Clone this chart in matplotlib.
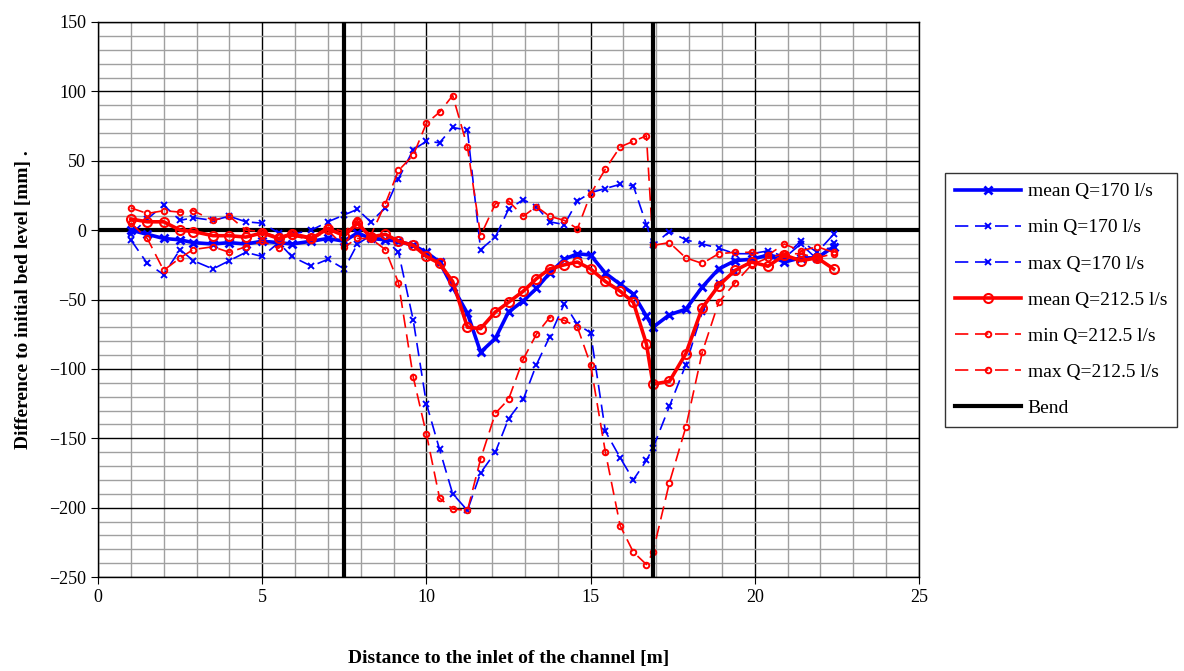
import matplotlib.pyplot as plt
import numpy as np

# distance along the channel [m]
x = [1.0, 1.5, 2.0, 2.5, 2.9, 3.5, 4.0, 4.5, 5.0, 5.5, 5.9, 6.5, 7.0, 7.5,
     7.9, 8.3, 8.75, 9.15, 9.6, 10.0, 10.4, 10.8, 11.25, 11.65, 12.1, 12.5,
     12.95, 13.35, 13.75, 14.2, 14.6, 15.0, 15.45, 15.9, 16.3, 16.7,
     16.9, 17.4, 17.9, 18.4, 18.9, 19.4, 19.9, 20.4, 20.9, 21.4, 21.9, 22.4]

mean170 = [0, -3, -6, -7, -9, -10, -9, -10, -8, -9, -10, -8, -6, -8,
           -2, -6, -7, -8, -11, -16, -23, -41, -60, -88, -78, -59,
           -51, -42, -31, -21, -17, -18, -31, -39, -46, -62,
           -70, -61, -57, -41, -28, -22, -21, -18, -23, -20, -20, -12]
min170 = [-7, -24, -32, -14, -22, -28, -22, -16, -19, -9, -19, -26, -21, -28,
          -10, -4, -7, -16, -65, -125, -158, -190, -202, -175, -160, -136,
          -122, -97, -77, -53, -68, -74, -145, -164, -180, -166,
          -157, -127, -97, -59, -38, -30, -22, -17, -20, -10, -21, -9]
max170 = [-3, 8, 18, 7, 9, 7, 10, 6, 5, -2, -3, 0, 6, 11,
          15, 6, 16, 37, 58, 64, 63, 74, 72, -14, -5, 15,
          22, 17, 6, 4, 21, 27, 30, 33, 32, 4,
          -11, -1, -7, -10, -13, -17, -17, -15, -19, -8, -16, -3]

mean212 = [8, 6, 6, 0, -1, -4, -4, -5, -2, -6, -3, -6, 1, -4,
           5, -5, -3, -8, -11, -19, -24, -37, -70, -71, -59, -52,
           -44, -35, -28, -25, -23, -28, -37, -44, -52, -82,
           -111, -109, -89, -56, -40, -29, -23, -26, -18, -22, -20, -28]
min212 = [5, -6, -29, -20, -14, -12, -16, -12, -8, -13, -4, -7, 0, -12,
          -6, -6, -14, -38, -106, -147, -193, -201, -202, -165, -132, -122,
          -93, -75, -63, -65, -70, -97, -160, -213, -232, -241,
          -232, -182, -142, -88, -52, -38, -25, -20, -17, -17, -20, -17]
max212 = [16, 12, 14, 13, 14, 7, 10, 0, -1, -5, -2, -5, 2, -1,
          7, -4, 19, 43, 54, 77, 85, 97, 60, -4, 19, 21,
          10, 17, 10, 7, 1, 26, 44, 60, 64, 68,
          -11, -9, -20, -24, -17, -16, -16, -18, -10, -15, -12, -16]

bend_x = [7.5, 7.5, np.nan, 16.9, 16.9]
bend_y = [-250, 150, np.nan, -250, 150]

plt.rcParams['font.family'] = ['Liberation Serif', 'DejaVu Serif']

fig = plt.figure(figsize=(11.84, 6.71), dpi=100, facecolor='white')
ax = fig.add_axes([98/1184, 1 - 577/671, (919 - 98)/1184, (577 - 22)/671])

ax.set_xlim(0, 25)
ax.set_ylim(-250, 150)
ax.set_xticks(np.arange(0, 26, 5))
ax.set_yticks(np.arange(-250, 151, 50))
ax.set_xticks(np.arange(0, 26, 1), minor=True)
ax.set_yticks(np.arange(-250, 151, 10), minor=True)
ax.grid(True, which='minor', color='#a0a0a0', lw=1.0, zorder=0)
ax.grid(True, which='major', color='black', lw=1.0, zorder=0)
ax.tick_params(which='minor', length=0)
ax.tick_params(which='major', direction='out', length=5, labelsize=13)
ax.set_axisbelow(True)
for s in ax.spines.values():
    s.set_linewidth(1.0)

ax.axhline(0, color='black', lw=3, zorder=1)

dash = (0, (8, 4))
ax.plot(x, mean170, color='blue', lw=2.6, marker='x', ms=6, mew=2,
        label='mean Q=170 l/s', zorder=3)
ax.plot(x, min170, color='blue', lw=1.2, ls=dash, marker='x', ms=5, mew=1.4,
        label='min Q=170 l/s', zorder=3)
ax.plot(x, max170, color='blue', lw=1.2, ls=dash, marker='x', ms=5, mew=1.4,
        label='max Q=170 l/s', zorder=3)
ax.plot(x, mean212, color='red', lw=2.6, marker='o', ms=6.5, mfc='none', mew=1.5,
        label='mean Q=212.5 l/s', zorder=4)
ax.plot(x, min212, color='red', lw=1.2, ls=dash, marker='o', ms=4, mfc='none', mew=1.4,
        label='min Q=212.5 l/s', zorder=4)
ax.plot(x, max212, color='red', lw=1.2, ls=dash, marker='o', ms=4, mfc='none', mew=1.4,
        label='max Q=212.5 l/s', zorder=4)
ax.plot(bend_x, bend_y, color='black', lw=3, label='Bend', zorder=5)

ax.set_xlabel('Distance to the inlet of the channel [m]', fontsize=14,
              fontweight='bold', labelpad=32)
ax.set_ylabel('Difference to initial bed level [mm] .', fontsize=14,
              fontweight='bold', labelpad=12)

leg = fig.legend(loc='upper left', bbox_to_anchor=(945/1184, 1 - 173/671),
                 fontsize=14, frameon=True, fancybox=False, edgecolor='black',
                 handlelength=3.4, labelspacing=0.95, borderpad=0.5,
                 handletextpad=0.35, borderaxespad=0)
leg.get_frame().set_linewidth(1.0)

plt.savefig('out.png', dpi=100, facecolor='white')
